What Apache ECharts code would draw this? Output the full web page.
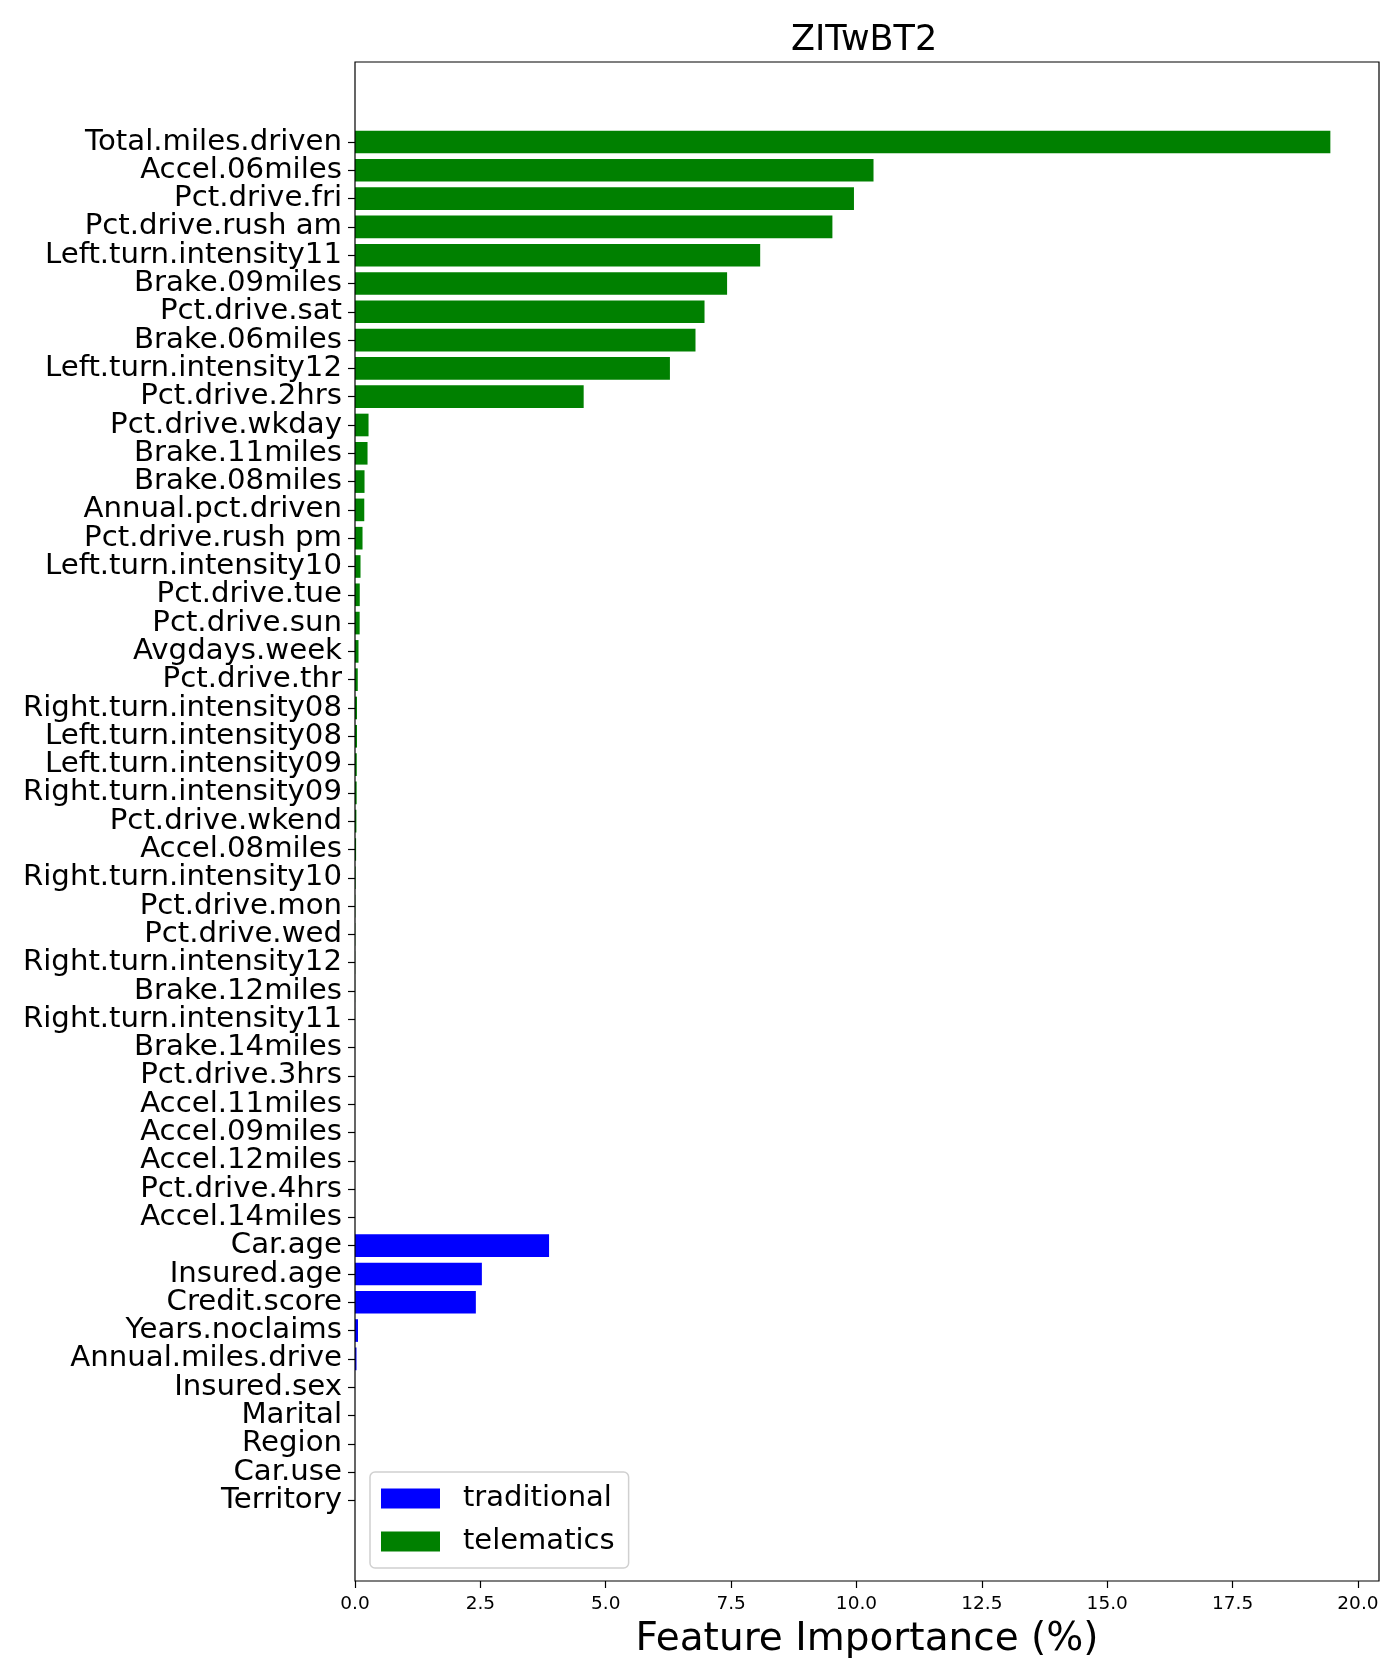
<!DOCTYPE html>
<html>
<head>
<meta charset="utf-8">
<script src="https://cdn.jsdelivr.net/npm/echarts@6/dist/echarts.min.js"></script>
<style>
html, body { margin: 0; padding: 0; background: #fff; }
#chart { width: 1400px; height: 1680px; }
</style>
</head>
<body>
<div id="chart"></div>
<script>
// feature names, top to bottom as drawn
var telematicsNames = [
    'Total.miles.driven', 'Accel.06miles', 'Pct.drive.fri', 'Pct.drive.rush am',
    'Left.turn.intensity11', 'Brake.09miles', 'Pct.drive.sat', 'Brake.06miles',
    'Left.turn.intensity12', 'Pct.drive.2hrs', 'Pct.drive.wkday', 'Brake.11miles',
    'Brake.08miles', 'Annual.pct.driven', 'Pct.drive.rush pm', 'Left.turn.intensity10',
    'Pct.drive.tue', 'Pct.drive.sun', 'Avgdays.week', 'Pct.drive.thr',
    'Right.turn.intensity08', 'Left.turn.intensity08', 'Left.turn.intensity09',
    'Right.turn.intensity09', 'Pct.drive.wkend', 'Accel.08miles', 'Right.turn.intensity10',
    'Pct.drive.mon', 'Pct.drive.wed', 'Right.turn.intensity12', 'Brake.12miles',
    'Right.turn.intensity11', 'Brake.14miles', 'Pct.drive.3hrs', 'Accel.11miles',
    'Accel.09miles', 'Accel.12miles', 'Pct.drive.4hrs', 'Accel.14miles'
];
var telematicsValues = [
    19.45, 10.34, 9.95, 9.52,
    8.08, 7.42, 6.97, 6.79,
    6.28, 4.56, 0.27, 0.25,
    0.19, 0.185, 0.15, 0.11,
    0.095, 0.093, 0.07, 0.055,
    0.04, 0.04, 0.035,
    0.033, 0.028, 0.022, 0.012,
    0.006, 0.005, 0.003, 0.002,
    0.001, 0, 0, 0,
    0, 0, 0, 0
];
var traditionalNames = [
    'Car.age', 'Insured.age', 'Credit.score', 'Years.noclaims', 'Annual.miles.drive',
    'Insured.sex', 'Marital', 'Region', 'Car.use', 'Territory'
];
var traditionalValues = [3.87, 2.53, 2.41, 0.06, 0.03, 0, 0, 0, 0, 0];

var xTicks = [0, 2.5, 5, 7.5, 10, 12.5, 15, 17.5, 20];
var xMax = 20.42;

var categories = telematicsNames.concat(traditionalNames);
var telematicsData = telematicsValues.concat(traditionalNames.map(function () { return null; }));
var traditionalData = telematicsNames.map(function () { return null; }).concat(traditionalValues);

var font = 'DejaVu Sans';
var chart = echarts.init(document.getElementById('chart'));

var option = {
    animation: false,
    backgroundColor: '#fff',
    textStyle: { fontFamily: font },
    title: {
        text: 'ZITwBT2',
        left: 786,
        top: 18,
        textStyle: { fontFamily: font, fontSize: 35, fontWeight: 'normal', color: '#000' }
    },
    legend: {
        data: ['traditional', 'telematics'],
        orient: 'vertical',
        left: 370,
        top: 1472,
        backgroundColor: '#fff',
        borderColor: '#d0d0d0',
        borderWidth: 1.5,
        borderRadius: 5,
        padding: [12, 14, 12, 11],
        itemWidth: 59,
        itemHeight: 20,
        itemGap: 14,
        icon: 'rect',
        textStyle: { fontFamily: font, fontSize: 29, color: '#000', padding: [0, 0, 0, 18] }
    },
    grid: [
        // frame for the whole axes box
        { left: 355, right: 21, top: 62, bottom: 99, show: true, z: 10,
          borderColor: '#000', borderWidth: 1.2, backgroundColor: 'transparent' },
        // band area where the categories sit
        { left: 355, right: 21, top: 127.85, bottom: 165.5 }
    ],
    xAxis: [
        {
            gridIndex: 0, type: 'value', min: 0, max: xMax,
            axisLine: { show: false },
            splitLine: { show: false },
            axisTick: { show: true, length: 7, customValues: xTicks, lineStyle: { color: '#000', width: 1.2 } },
            axisLabel: {
                customValues: xTicks, fontSize: 18.5, color: '#000', margin: 14, fontFamily: font,
                formatter: function (v) { return v.toFixed(1); }
            },
            name: 'Feature Importance (%)',
            nameLocation: 'middle',
            nameGap: 39,
            nameTextStyle: { fontSize: 39, color: '#000', fontFamily: font }
        },
        { gridIndex: 1, type: 'value', min: 0, max: xMax, show: false }
    ],
    yAxis: [
        { gridIndex: 0, type: 'value', show: false },
        {
            gridIndex: 1, type: 'category', data: categories, inverse: true,
            axisLine: { show: false },
            splitLine: { show: false },
            axisTick: { show: true, length: 7, alignWithLabel: true, interval: 0, lineStyle: { color: '#000', width: 1.2 } },
            axisLabel: { interval: 0, fontSize: 29.2, color: '#000', margin: 13, fontFamily: font }
        }
    ],
    series: [
        {
            name: 'traditional', type: 'bar', xAxisIndex: 1, yAxisIndex: 1,
            data: traditionalData, barWidth: '80%', barGap: '-100%',
            itemStyle: { color: '#0000ff' }
        },
        {
            name: 'telematics', type: 'bar', xAxisIndex: 1, yAxisIndex: 1,
            data: telematicsData, barWidth: '80%', barGap: '-100%',
            itemStyle: { color: '#008000' }
        }
    ]
};
chart.setOption(option);
</script>
</body>
</html>
